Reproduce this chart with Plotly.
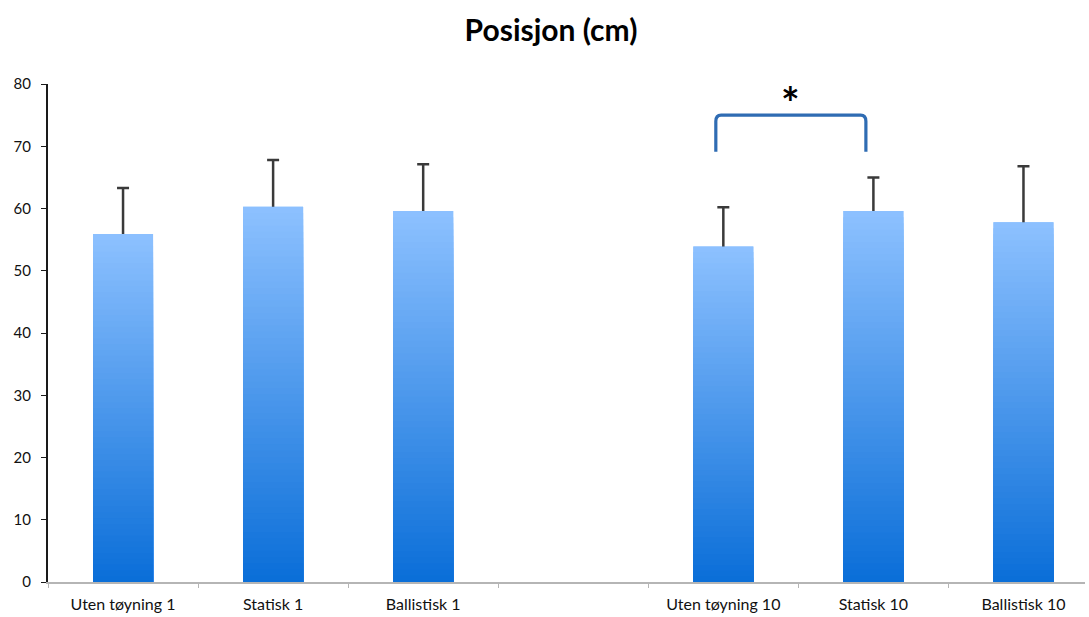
import plotly.graph_objects as go

categories = ["Uten tøyning 1", "Statisk 1", "Ballistisk 1", " ",
              "Uten tøyning 10", "Statisk 10", "Ballistisk 10"]
means = [55.9, 60.3, 59.6, None, 53.9, 59.6, 57.8]
err_up = [7.4, 7.5, 7.5, None, 6.3, 5.4, 9.0]

TOP = (141, 193, 255)
BOTTOM = (10, 110, 216)
N = 60


def mix(f):
    return "rgb({},{},{})".format(*[round(b + (t - b) * f) for t, b in zip(TOP, BOTTOM)])


fig = go.Figure()
# error bars (lower half hidden beneath the bars drawn afterwards)
fig.add_trace(go.Bar(x=categories, y=means, width=0.4,
                     marker=dict(color=mix(1), line=dict(width=0)),
                     error_y=dict(type="data", symmetric=True,
                                  array=[0 if e is None else e for e in err_up],
                                  color="#3a3a3a", thickness=2.5, width=6),
                     showlegend=False, hoverinfo="skip"))
# gradient bars
for k in range(N):
    frac = (N - k) / N
    ys = [None if m is None else m * frac for m in means]
    fig.add_trace(go.Bar(x=categories, y=ys, width=0.4,
                         marker=dict(color=mix(frac - 0.5 / N), line=dict(width=0)),
                         showlegend=False, hoverinfo="skip"))

fig.update_layout(
    width=1089, height=617,
    barmode="overlay",
    plot_bgcolor="white", paper_bgcolor="white",
    margin=dict(l=48, r=4, t=84, b=35),
    font=dict(family="Lato, Open Sans, sans-serif", color="#111111", size=16),
    title=dict(text="<b>Posisjon (cm)</b>", x=0.506, xref="container", xanchor="center",
               y=0.951, yanchor="middle", font=dict(size=30, color="#000000")),
    xaxis=dict(type="category", categoryorder="array", categoryarray=categories,
               range=[-0.5, 6.41], showline=True, linecolor="#b5b5b5", linewidth=1.8,
               ticks="outside", tickson="boundaries", ticklen=4, tickcolor="#b5b5b5",
               showgrid=False, tickfont=dict(size=16), ticklabelstandoff=7),
    yaxis=dict(range=[0, 80], dtick=10, showline=True, linecolor="#1a1a1a", linewidth=2,
               ticks="outside", ticklen=5, tickcolor="#1a1a1a", showgrid=False,
               zeroline=False, tickfont=dict(size=15), ticklabelstandoff=7),
)

fig.add_shape(type="path", xref="x", yref="y",
              path="M 3.95,69.1 L 3.95,74.0 Q 3.95,75 3.985,75 L 4.915,75 Q 4.95,75 4.95,74.0 L 4.95,69.1",
              line=dict(color="#2f6cb3", width=3.2))
fig.add_annotation(x=4.45, y=77.1, xref="x", yref="y", text="<b>*</b>", showarrow=False,
                   yanchor="middle", font=dict(size=44, color="#000000"))

fig.write_html("out.html", config={"displayModeBar": False},
               post_script="document.body.style.margin='0';")
